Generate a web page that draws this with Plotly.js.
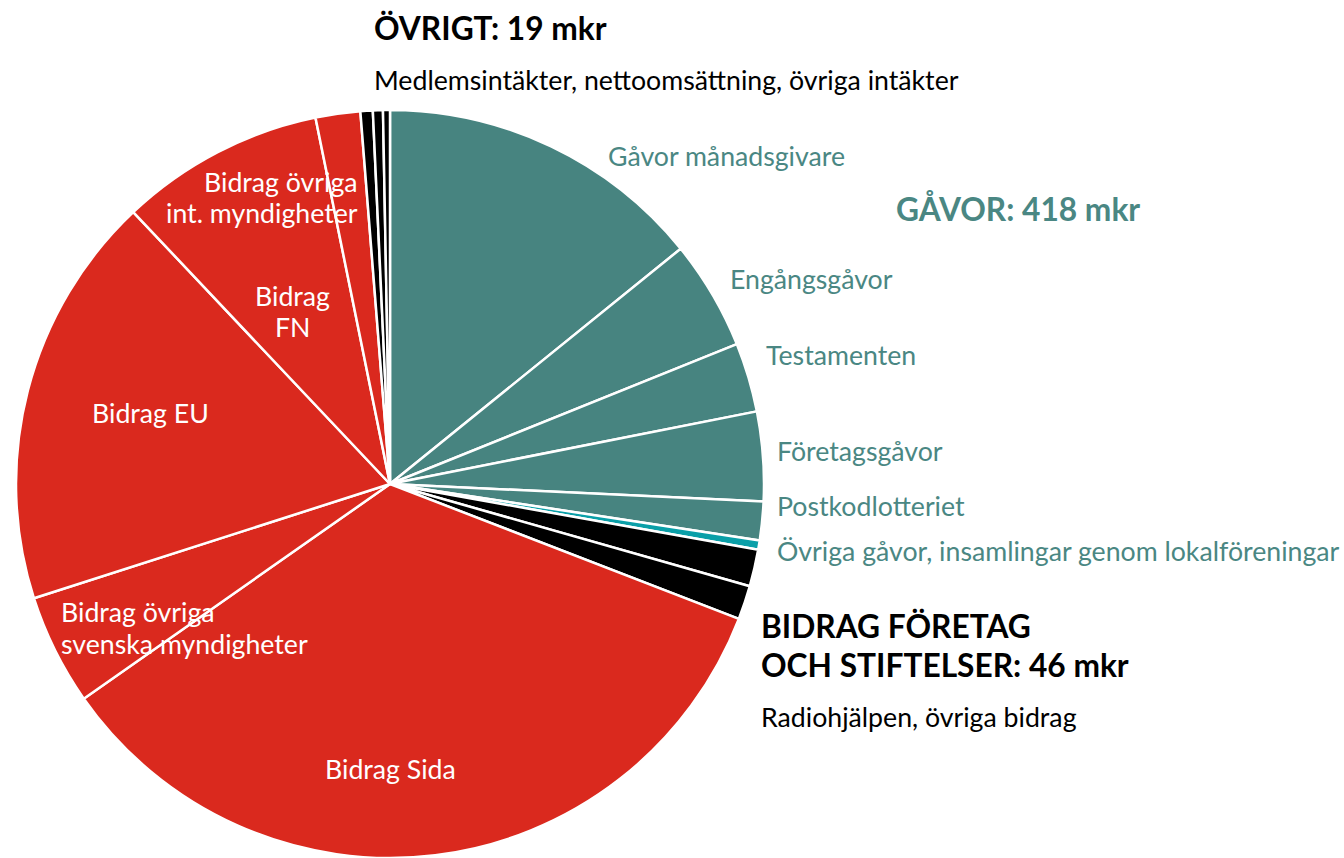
<!DOCTYPE html>
<html>
<head>
<meta charset="utf-8">
<script src="https://cdn.plot.ly/plotly-3.0.1.min.js"></script>
<style>html,body{margin:0;padding:0;background:#fff;}#chart{width:1344px;height:858px;}</style>
</head>
<body>
<div id="chart"></div>
<script>
// Slices, clockwise from 12 o'clock (mkr)
const sliceLabels = [
  "Gåvor månadsgivare", "Engångsgåvor", "Testamenten", "Företagsgåvor",
  "Postkodlotteriet", "Övriga gåvor, insamlingar genom lokalföreningar",
  "Radiohjälpen", "Övriga bidrag",
  "Bidrag Sida", "Bidrag övriga svenska myndigheter", "Bidrag EU", "Bidrag FN",
  "Bidrag övriga int. myndigheter",
  "Medlemsintäkter", "Nettoomsättning", "Övriga intäkter"
];
const sliceValues = [213, 71, 45, 58, 25, 6, 24, 22, 517, 72, 269, 133, 29, 8, 6.5, 4.5];
const sliceGroups = ["gavor","gavor","gavor","gavor","gavor","gavor_ovr",
  "foretag","foretag","bidrag","bidrag","bidrag","bidrag","bidrag","ovrigt","ovrigt","ovrigt"];

const groupColors = {gavor: "#478480", gavor_ovr: "#0a9fa8", foretag: "#000000", bidrag: "#da291e", ovrigt: "#000000"};
const TEAL = "#4a8783";
const W = 1344, H = 858;

const trace = {
  type: "pie",
  labels: sliceLabels,
  values: sliceValues,
  sort: false,
  direction: "clockwise",
  rotation: 0,
  textinfo: "none",
  hoverinfo: "label+value",
  marker: {colors: sliceGroups.map(g => groupColors[g]), line: {color: "#ffffff", width: 2.5}},
  domain: {x: [16 / W, 764 / W], y: [0, 1 - 110 / H]},
  showlegend: false
};

const REG = 26.7, BOLD = 31.7;
function ann(text, px, py, opts) {
  return Object.assign({
    text: text, x: px / W, y: 1 - py / H, xref: "paper", yref: "paper",
    showarrow: false, xanchor: "left", yanchor: "middle",
    font: {family: "Lato, sans-serif", size: REG, color: "#000"}
  }, opts || {});
}
const white = {family: "Lato, sans-serif", size: REG, color: "#fff"};
const teal = {family: "Lato, sans-serif", size: REG, color: TEAL};
const boldBlack = {family: "Lato, sans-serif", size: BOLD, color: "#000"};
const annotations = [
  ann("<b>ÖVRIGT: 19 mkr</b>", 372, 28, {font: boldBlack}),
  ann("Medlemsintäkter, nettoomsättning, övriga intäkter", 372, 80),
  ann("Gåvor månadsgivare", 606, 156, {font: teal}),
  ann("<b>GÅVOR: 418 mkr</b>", 894, 209, {font: {family: "Lato, sans-serif", size: BOLD, color: TEAL}}),
  ann("Engångsgåvor", 728, 279, {font: teal}),
  ann("Testamenten", 764, 355, {font: teal}),
  ann("Företagsgåvor", 775, 451, {font: teal}),
  ann("Postkodlotteriet", 775, 506, {font: teal}),
  ann("Övriga gåvor, insamlingar genom lokalföreningar", 775, 551, {font: teal}),
  ann("<b>BIDRAG FÖRETAG</b>", 759, 626, {font: boldBlack}),
  ann("<b>OCH STIFTELSER: 46 mkr</b>", 759, 665, {font: boldBlack}),
  ann("Radiohjälpen, övriga bidrag", 759, 717),
  ann("Bidrag övriga", 360, 182, {xanchor: "right", font: white}),
  ann("int. myndigheter", 360, 213, {xanchor: "right", font: white}),
  ann("Bidrag", 292, 296, {xanchor: "center", font: white}),
  ann("FN", 292, 327, {xanchor: "center", font: white}),
  ann("Bidrag EU", 150, 413, {xanchor: "center", font: white}),
  ann("Bidrag övriga", 59, 612, {font: white}),
  ann("svenska myndigheter", 59, 644, {font: white}),
  ann("Bidrag Sida", 390, 769, {xanchor: "center", font: white})
];

const layout = {
  width: W, height: H,
  margin: {l: 0, r: 0, t: 0, b: 0},
  paper_bgcolor: "#ffffff",
  font: {family: "Lato, sans-serif"},
  annotations: annotations
};
Plotly.newPlot("chart", [trace], layout, {displayModeBar: false, staticPlot: true});
</script>
</body>
</html>
